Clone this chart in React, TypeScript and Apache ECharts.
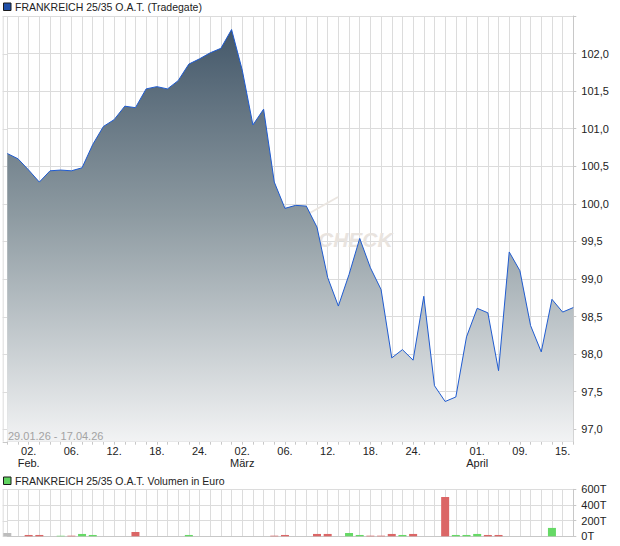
import React, { useEffect, useRef } from "react";
import * as echarts from "echarts";

const dates = [
  "29.01.", "30.01.",
  "02.02.", "03.02.", "04.02.", "05.02.", "06.02.", "09.02.", "10.02.", "11.02.", "12.02.", "13.02.",
  "16.02.", "17.02.", "18.02.", "19.02.", "20.02.", "23.02.", "24.02.", "25.02.", "26.02.", "27.02.",
  "02.03.", "03.03.", "04.03.", "05.03.", "06.03.", "09.03.", "10.03.", "11.03.", "12.03.", "13.03.",
  "16.03.", "17.03.", "18.03.", "19.03.", "20.03.", "23.03.", "24.03.", "25.03.", "26.03.", "27.03.",
  "30.03.", "31.03.",
  "01.04.", "02.04.", "07.04.", "08.04.", "09.04.", "10.04.", "13.04.", "14.04.", "15.04.", "16.04.",
];

const prices = [
  100.67, 100.6, 100.45, 100.29, 100.44, 100.45, 100.44, 100.48, 100.79, 101.03,
  101.12, 101.3, 101.28, 101.53, 101.56, 101.53, 101.64, 101.86, 101.93, 102.01,
  102.07, 102.32, 101.78, 101.05, 101.26, 100.29, 99.94, 99.98, 99.97, 99.69,
  99.02, 98.64, 99.06, 99.54, 99.15, 98.86, 97.95, 98.06, 97.92, 98.77,
  97.58, 97.37, 97.43, 98.23, 98.61, 98.55, 97.78, 99.36, 99.11, 98.38,
  98.03, 98.73, 98.56, 98.62,
];

// volume in thousand euro (T)
const volumes = [
  43, 0, 17, 17, 0, 8, 8, 30, 17, 0,
  0, 0, 55, 0, 0, 0, 0, 17, 0, 0,
  0, 0, 0, 0, 0, 8, 17, 0, 0, 30,
  30, 0, 42, 17, 8, 8, 30, 17, 30, 0,
  0, 502, 17, 17, 30, 17, 17, 0, 0, 0,
  0, 107, 0, 0,
];
// n = neutral, r = down, g = up
const volumeDir = [
  "n", "", "r", "r", "", "g", "r", "g", "g", "",
  "", "", "r", "", "", "", "", "g", "", "",
  "", "", "", "", "", "r", "r", "", "", "r",
  "r", "", "g", "g", "r", "r", "r", "g", "r", "",
  "", "r", "g", "g", "g", "r", "r", "", "", "",
  "", "g", "", "",
];

const labelDates = ["02.02.", "06.02.", "12.02.", "18.02.", "24.02.", "02.03.", "06.03.", "12.03.", "18.03.", "24.03.", "01.04.", "09.04.", "15.04."];
const labelMonths = ["Feb.", "", "", "", "", "März", "", "", "", "", "April", "", ""];
const priceTicks = [97, 97.5, 98, 98.5, 99, 99.5, 100, 100.5, 101, 101.5, 102, 102.5];
const priceLabels = [97, 97.5, 98, 98.5, 99, 99.5, 100, 100.5, 101, 101.5, 102];
const volumeTicks = [0, 200, 400, 600];

const TITLE = "FRANKREICH 25/35 O.A.T. (Tradegate)";
const VOL_TITLE = "FRANKREICH 25/35 O.A.T. Volumen in Euro";
const RANGE_TEXT = "29.01.26 - 17.04.26";

const FONT = "'Liberation Sans', Arial, sans-serif";
const GRID_COLOR = "#dcdcdc";
const AXIS_COLOR = "#c8c8c8";
const dirColor: Record<string, string> = { n: "#bdbdbd", r: "#db6666", g: "#66d966", "": "#bdbdbd" };

export default function App() {
  const ref = useRef<HTMLDivElement>(null);

  useEffect(() => {
    if (!ref.current) return;
    const chart = echarts.init(ref.current, undefined, { renderer: "svg" });
    const labelIdx = new Map<number, string>();
    labelDates.forEach((d, i) => {
      const idx = dates.indexOf(d);
      if (idx >= 0) {
        const day = d.slice(0, 3);
        labelIdx.set(idx, labelMonths[i] ? `${day}\n${labelMonths[i]}` : day);
      }
    });

    const option: any = {
      animation: false,
      textStyle: { fontFamily: FONT },
      grid: [
        { left: 7.3, right: 46.7, top: 16, height: 425.7, outerBoundsMode: "none", containLabel: false },
        { left: 7.3, right: 46.7, top: 489.3, height: 47, outerBoundsMode: "none", containLabel: false },
      ],
      xAxis: [
        {
          type: "category",
          gridIndex: 0,
          data: dates,
          boundaryGap: false,
          axisLine: { show: true, lineStyle: { color: AXIS_COLOR, width: 1 } },
          axisTick: { show: true, interval: 0, length: 3, lineStyle: { color: AXIS_COLOR } },
          axisLabel: {
            show: true,
            interval: (idx: number) => labelIdx.has(idx),
            formatter: (_v: string, idx: number) => labelIdx.get(idx) || "",
            color: "#222",
            fontSize: 11,
            fontFamily: FONT,
            lineHeight: 12,
            margin: 3,
          },
          splitLine: { show: true, interval: 0, lineStyle: { color: GRID_COLOR, width: 1 } },
        },
        {
          type: "category",
          gridIndex: 1,
          data: dates,
          boundaryGap: false,
          axisLine: { show: true, lineStyle: { color: AXIS_COLOR, width: 1 } },
          axisTick: { show: false },
          axisLabel: { show: false },
          splitLine: { show: true, interval: 0, lineStyle: { color: GRID_COLOR, width: 1 } },
        },
      ],
      yAxis: [
        {
          type: "value",
          gridIndex: 0,
          position: "right",
          min: 96.835,
          max: 102.5,
          scale: true,
          axisLine: { show: true, lineStyle: { color: AXIS_COLOR } },
          axisTick: { show: true, length: 3, customValues: priceTicks, lineStyle: { color: AXIS_COLOR } },
          axisLabel: {
            show: true,
            customValues: priceLabels,
            formatter: (v: number) => v.toFixed(1).replace(".", ","),
            color: "#222",
            fontSize: 11,
            fontFamily: FONT,
            margin: 8,
          },
          splitLine: { show: true, lineStyle: { color: GRID_COLOR, width: 1 } },
        },
        {
          type: "value",
          gridIndex: 1,
          position: "right",
          min: 0,
          max: 600,
          interval: 200,
          axisLine: { show: true, lineStyle: { color: AXIS_COLOR } },
          axisTick: { show: true, length: 3, lineStyle: { color: AXIS_COLOR } },
          axisLabel: {
            show: true,
            formatter: (v: number) => `${v}T`,
            color: "#222",
            fontSize: 11,
            fontFamily: FONT,
            margin: 8,
          },
          splitLine: { show: true, lineStyle: { color: GRID_COLOR, width: 1 } },
        },
      ],
      series: [
        {
          type: "line",
          xAxisIndex: 0,
          yAxisIndex: 0,
          data: prices,
          symbol: "none",
          smooth: false,
          z: 3,
          lineStyle: { color: "#1f5bd0", width: 1 },
          areaStyle: {
            origin: "start",
            opacity: 1,
            color: new echarts.graphic.LinearGradient(0, 0, 0, 1, [
              { offset: 0, color: "#44586a" },
              { offset: 0.45, color: "#8d9aa1" },
              { offset: 1, color: "#f2f3f4" },
            ]),
          },
        },
        {
          type: "bar",
          xAxisIndex: 1,
          yAxisIndex: 1,
          clip: false,
          barWidth: 8,
          data: volumes.map((v, i) => ({ value: v, itemStyle: { color: dirColor[volumeDir[i]] } })),
        },
      ],
      graphic: [
        { type: "rect", left: 3, top: 2.5, shape: { width: 7.5, height: 7.5 }, style: { fill: "#1f4fa8", stroke: "#1a1a1a", lineWidth: 1 } },
        { type: "text", x: 15, y: 6.5, style: { text: TITLE, fill: "#222", font: `10.5px ${FONT}`, textVerticalAlign: "middle" } },
        { type: "rect", left: 3, top: 476.5, shape: { width: 7.5, height: 7.5 }, style: { fill: "#5fd35f", stroke: "#1a1a1a", lineWidth: 1 } },
        { type: "text", x: 15, y: 480.5, style: { text: VOL_TITLE, fill: "#222", font: `10.5px ${FONT}`, textVerticalAlign: "middle" } },
        { type: "text", x: 8, y: 435.5, z: 5, style: { text: RANGE_TEXT, fill: "#a3a3a3", font: `11px ${FONT}`, textVerticalAlign: "middle" } },
        { type: "text", x: 318, y: 239, z: 1, style: { text: "CHECK", fill: "#e9e4df", font: `italic bold 21px ${FONT}`, textVerticalAlign: "middle" } },
        { type: "line", z: 1, shape: { x1: 308, y1: 214, x2: 338, y2: 197 }, style: { stroke: "#ebe6e1", lineWidth: 2 } },
      ],
    };
    chart.setOption(option);

    // extend frame/grid to the left edge of the plot box
    const extra: any[] = [];
    const xl = 2.7;
    const xr = 7.3;
    const top0 = chart.convertToPixel({ yAxisIndex: 0 } as any, 102.5) as number;
    const bot0 = chart.convertToPixel({ yAxisIndex: 0 } as any, 96.835) as number;
    extra.push({ type: "line", shape: { x1: xl + 0.5, y1: top0, x2: xl + 0.5, y2: bot0 }, style: { stroke: GRID_COLOR, lineWidth: 1 } });
    priceTicks.forEach((v) => {
      const y = Math.round(chart.convertToPixel({ yAxisIndex: 0 } as any, v) as number) + 0.5;
      extra.push({ type: "line", shape: { x1: xl, y1: y, x2: xr, y2: y }, style: { stroke: GRID_COLOR, lineWidth: 1 } });
    });
    extra.push({ type: "line", shape: { x1: xl, y1: Math.round(bot0) + 0.5, x2: xr, y2: Math.round(bot0) + 0.5 }, style: { stroke: AXIS_COLOR, lineWidth: 1 } });
    const top1 = chart.convertToPixel({ yAxisIndex: 1 } as any, 600) as number;
    const bot1 = chart.convertToPixel({ yAxisIndex: 1 } as any, 0) as number;
    extra.push({ type: "line", shape: { x1: xl + 0.5, y1: top1, x2: xl + 0.5, y2: bot1 }, style: { stroke: GRID_COLOR, lineWidth: 1 } });
    volumeTicks.forEach((v) => {
      const y = Math.round(chart.convertToPixel({ yAxisIndex: 1 } as any, v) as number) + 0.5;
      extra.push({ type: "line", shape: { x1: xl, y1: y, x2: xr, y2: y }, style: { stroke: GRID_COLOR, lineWidth: 1 } });
    });
    chart.setOption({ graphic: [...option.graphic, ...extra] });

    return () => chart.dispose();
  }, []);

  return (
    <div
      ref={ref}
      style={{ position: "fixed", left: 0, top: 0, width: 620, height: 546, background: "#fff" }}
    />
  );
}
